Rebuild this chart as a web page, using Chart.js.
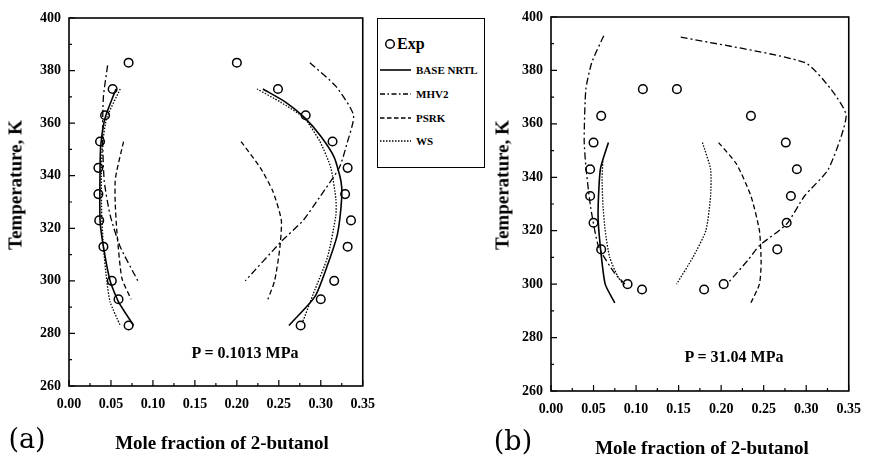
<!DOCTYPE html>
<html>
<head>
<meta charset="utf-8">
<script src="https://cdn.jsdelivr.net/npm/chart.js@4.4.0/dist/chart.umd.min.js"></script>
<style>
body { margin: 0; background: #fff; width: 871px; height: 458px; position: relative; overflow: hidden; font-family: "Liberation Serif", serif; color: #000; }
canvas { position: absolute; top: 0; }
#cA { left: 0; }
#cB { left: 460px; }
.t { position: absolute; font-weight: bold; white-space: nowrap; transform: translate(-50%, -50%); line-height: 1; }
.xt { font-size: 19px; }
.yt { font-size: 19px; transform: translate(-50%, -50%) rotate(-90deg); }
.pl { font-size: 16px; }
.pn { font-family: "DejaVu Serif", serif; font-weight: normal; font-size: 27px; }
#legend { position: absolute; left: 377px; top: 18px; width: 108px; height: 150px; box-sizing: border-box; border: 1.5px solid #000; background: #fff; }
#legend svg { position: absolute; left: 0; top: 0; }
#legend span { position: absolute; font-weight: bold; font-size: 11px; line-height: 1; transform: translateY(-50%); white-space: nowrap; }
</style>
</head>
<body>
<canvas id="cA" width="385" height="440"></canvas>
<canvas id="cB" width="411" height="440"></canvas>

<div class="t yt" style="left:15px; top:185px;">Temperature, K</div>
<div class="t yt" style="left:502px; top:185px;">Temperature, K</div>
<div class="t xt" style="left:222px; top:442px;">Mole fraction of 2-butanol</div>
<div class="t xt" style="left:702px; top:447px;">Mole fraction of 2-butanol</div>
<div class="t pl" style="left:245px; top:353px;">P = 0.1013 MPa</div>
<div class="t pl" style="left:734px; top:357px;">P = 31.04 MPa</div>
<div class="t pn" style="left:27px; top:438px;">(a)</div>
<div class="t pn" style="left:513px; top:440px;">(b)</div>

<div id="legend">
  <svg width="106" height="148">
    <circle cx="12" cy="25" r="4.3" fill="none" stroke="#000" stroke-width="1.5"/>
    <line x1="2" y1="51" x2="33" y2="51" stroke="#000" stroke-width="1.6"/>
    <line x1="2" y1="75" x2="33" y2="75" stroke="#000" stroke-width="1.3" stroke-dasharray="5 2.5 1.5 2.5"/>
    <line x1="2" y1="99" x2="33" y2="99" stroke="#000" stroke-width="1.3" stroke-dasharray="4.5 2.5"/>
    <line x1="2" y1="122" x2="33" y2="122" stroke="#000" stroke-width="1.3" stroke-dasharray="1.5 1.5"/>
  </svg>
  <span style="left:19px; top:25px; font-size:16px;">Exp</span>
  <span style="left:38px; top:51px;">BASE NRTL</span>
  <span style="left:38px; top:75px;">MHV2</span>
  <span style="left:38px; top:99px;">PSRK</span>
  <span style="left:38px; top:122px;">WS</span>
</div>

<script>
// axis ticks
var tempTicks = [260, 280, 300, 320, 340, 360, 380, 400];
var tempMinor = [270, 290, 310, 330, 350, 370, 390];
var fracTicks = [0, 0.05, 0.10, 0.15, 0.20, 0.25, 0.30, 0.35];
var fracMinor = [0.025, 0.075, 0.125, 0.175, 0.225, 0.275, 0.325];

// (a) P = 0.1013 MPa, experimental points
var expT_a     = [383, 373, 363, 353, 343, 333, 323, 313, 300, 293, 283];
var expLeft_a  = [0.071, 0.052, 0.043, 0.037, 0.035, 0.035, 0.036, 0.041, 0.051, 0.059, 0.071];
var expRight_a = [0.200, 0.249, 0.282, 0.314, 0.332, 0.329, 0.336, 0.332, 0.316, 0.300, 0.276];

// (a) model curves, [x, T]
var nrtlLeft_a  = [[0.056,373],[0.043,362],[0.038,352],[0.037,343],[0.037,323],[0.041,313],[0.049,300],[0.059,292],[0.077,283]];
var nrtlRight_a = [[0.231,373],[0.258,368],[0.281,362],[0.300,355],[0.316,347],[0.324,338],[0.325,332],[0.320,318],[0.308,306],[0.293,294],[0.262,283]];
var mhv2Left_a  = [[0.046,382],[0.041,370],[0.040,355],[0.042,338],[0.049,325],[0.061,313],[0.082,300]];
var mhv2Right_a = [[0.287,383],[0.318,374],[0.339,363],[0.331,352],[0.322,343],[0.299,332],[0.279,323],[0.253,315],[0.210,300]];
var psrkLeft_a  = [[0.065,353],[0.057,342],[0.055,338],[0.055,330],[0.057,319],[0.063,301],[0.074,293]];
var psrkRight_a = [[0.205,353],[0.228,343],[0.243,334],[0.253,323],[0.251,312],[0.245,300],[0.237,293]];
var wsLeft_a    = [[0.061,373],[0.045,362],[0.040,352],[0.0385,340],[0.039,325],[0.041,313],[0.045,300],[0.049,292],[0.061,283]];
var wsRight_a   = [[0.224,373],[0.252,368],[0.280,362],[0.299,353],[0.312,343],[0.318,331],[0.318,325],[0.308,309],[0.291,295],[0.278,284]];

// (b) P = 31.04 MPa, experimental points
var expT_b     = [373, 363, 353, 343, 333, 323, 313, 300, 298];
var expLeft_b  = [0.108, 0.059, 0.050, 0.046, 0.046, 0.050, 0.059, 0.090, 0.107];
var expRight_b = [0.148, 0.235, 0.276, 0.289, 0.282, 0.277, 0.266, 0.203, 0.180];

// (b) model curves, [x, T]
var nrtlLeft_b  = [[0.0675,353],[0.058,343],[0.0553,326],[0.058,314],[0.0637,300],[0.075,293]];
var mhv2Left_b  = [[0.062,393],[0.048,383],[0.041,373],[0.039,354],[0.041,344],[0.0465,329],[0.056,314],[0.075,304],[0.087,300]];
var mhv2Right_b = [[0.1525,392.5],[0.298,383],[0.329,373],[0.347,363],[0.326,343],[0.298,333],[0.277,322.5],[0.245,314.4],[0.2315,309],[0.2086,300.6]];
var psrkRight_b = [[0.197,353],[0.218,345],[0.235,333],[0.245,320],[0.247,308],[0.245,300],[0.235,293]];
var wsLeft_b    = [[0.061,346],[0.060,340],[0.061,330],[0.0637,320],[0.069,310],[0.079,302.5],[0.085,300]];
var wsMid_b     = [[0.178,353],[0.1876,343],[0.1876,333],[0.182,320],[0.1667,310],[0.1476,300]];

var lineStyles = {
  nrtl: { borderDash: [], borderWidth: 1.6 },
  mhv2: { borderDash: [7, 3, 2, 3], borderWidth: 1.3 },
  psrk: { borderDash: [5, 3], borderWidth: 1.3 },
  ws:   { borderDash: [1.5, 1.5], borderWidth: 1.3 }
};

function curve(pts, kind) {
  return Object.assign({
    data: pts.map(function (p) { return { x: p[0], y: p[1] }; }),
    showLine: true, pointRadius: 0, borderColor: '#000', tension: 0.2, fill: false
  }, lineStyles[kind]);
}

function expPoints(xs, ts) {
  return {
    data: xs.map(function (v, i) { return { x: v, y: ts[i] }; }),
    showLine: false, pointRadius: 4.3, pointBorderWidth: 1.5,
    pointBorderColor: '#000', pointBackgroundColor: 'rgba(0,0,0,0)', pointStyle: 'circle'
  };
}

// inward tick marks and frame
var frame = {
  id: 'frame',
  afterDraw: function (chart) {
    var ctx = chart.ctx, a = chart.chartArea, x = chart.scales.x, y = chart.scales.y;
    ctx.save();
    ctx.strokeStyle = '#000';
    ctx.lineWidth = 1.2;
    ctx.beginPath();
    fracTicks.forEach(function (v) { var px = x.getPixelForValue(v); ctx.moveTo(px, a.bottom); ctx.lineTo(px, a.bottom - 6); });
    fracMinor.forEach(function (v) { var px = x.getPixelForValue(v); ctx.moveTo(px, a.bottom); ctx.lineTo(px, a.bottom - 3); });
    tempTicks.forEach(function (v) { var py = y.getPixelForValue(v); ctx.moveTo(a.left, py); ctx.lineTo(a.left + 6, py); });
    tempMinor.forEach(function (v) { var py = y.getPixelForValue(v); ctx.moveTo(a.left, py); ctx.lineTo(a.left + 3, py); });
    ctx.stroke();
    ctx.lineWidth = 1.6;
    ctx.strokeRect(a.left, a.top, a.right - a.left, a.bottom - a.top);
    ctx.restore();
  }
};

var tickFont = { family: "'Liberation Serif', serif", weight: 'bold', size: 14 };

function makeChart(id, datasets, pad, yWidth, xHeight) {
  return new Chart(document.getElementById(id), {
    type: 'scatter',
    data: { datasets: datasets },
    options: {
      responsive: false,
      animation: false,
      layout: { padding: pad },
      plugins: { legend: { display: false }, tooltip: { enabled: false } },
      scales: {
        x: {
          type: 'linear', min: 0, max: 0.35,
          afterBuildTicks: function (s) { s.ticks = fracTicks.map(function (v) { return { value: v }; }); },
          afterFit: function (s) { s.height = xHeight; },
          grid: { display: false, drawTicks: false },
          border: { display: false },
          ticks: { padding: 10, color: '#000', font: tickFont, maxRotation: 0, autoSkip: false,
                   callback: function (v) { return v.toFixed(2); } }
        },
        y: {
          type: 'linear', min: 260, max: 400,
          afterBuildTicks: function (s) { s.ticks = tempTicks.map(function (v) { return { value: v }; }); },
          afterFit: function (s) { s.width = yWidth; },
          grid: { display: false, drawTicks: false },
          border: { display: false },
          ticks: { padding: 8, color: '#000', font: tickFont, autoSkip: false }
        }
      }
    },
    plugins: [frame]
  });
}

makeChart('cA', [
  curve(nrtlLeft_a, 'nrtl'), curve(nrtlRight_a, 'nrtl'),
  curve(mhv2Left_a, 'mhv2'), curve(mhv2Right_a, 'mhv2'),
  curve(psrkLeft_a, 'psrk'), curve(psrkRight_a, 'psrk'),
  curve(wsLeft_a, 'ws'), curve(wsRight_a, 'ws'),
  expPoints(expLeft_a, expT_a), expPoints(expRight_a, expT_a)
], { left: 0, top: 18, right: 12, bottom: 0 }, 69, 54);

makeChart('cB', [
  curve(nrtlLeft_b, 'nrtl'),
  curve(mhv2Left_b, 'mhv2'), curve(mhv2Right_b, 'mhv2'),
  curve(psrkRight_b, 'psrk'),
  curve(wsLeft_b, 'ws'), curve(wsMid_b, 'ws'),
  expPoints(expLeft_b, expT_b), expPoints(expRight_b, expT_b)
], { left: 0, top: 17, right: 14, bottom: 0 }, 91, 49);
</script>
</body>
</html>
